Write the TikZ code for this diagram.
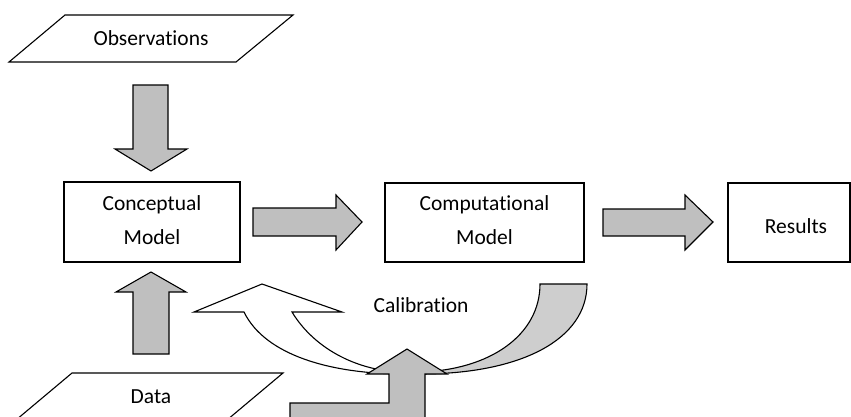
\documentclass[tikz,border=0pt]{standalone}
\usepackage{fontspec}
\setmainfont{Carlito}[Ligatures={NoCommon,NoContextual},RawFeature={-liga;-clig;-calt;-dlig}]
\definecolor{arrowgray}{RGB}{191,191,191}
\definecolor{bandgray}{RGB}{206,206,206}
\begin{document}
\begin{tikzpicture}[x=1pt,y=-1pt, line width=1.1pt, line join=miter,
  box/.style={draw=black, fill=white, inner sep=0pt},
  lbl/.style={font=\fontsize{21.5}{34}\selectfont, align=center, inner sep=0pt},
  blockarrow/.style={draw=black, fill=arrowgray},
  bandshape/.style={draw=black, fill=bandgray},
  frontshape/.style={draw=black, fill=white},
  dataform/.style={draw=black, fill=white}]
\useasboundingbox (0,0) rectangle (851,416);
\clip (0,0) rectangle (851,416);

% input/output parallelograms
\draw[dataform] (65,15) -- (293,15) -- (236,62) -- (9,62) -- cycle;
\node[lbl] (obs) at (151,38) {Observations};
\draw[dataform] (72,373) -- (283,373) -- (227,420) -- (16,420) -- cycle;
\node[lbl] (data) at (151,397) {Data};

% boxes
\node[box, minimum width=176pt, minimum height=80pt] (concept) at (152,222) {};
\node[lbl] (concepttxt) at (152,220) {Conceptual\\Model};
\node[box, minimum width=199pt, minimum height=79pt] (comp) at (484.5,222.5) {};
\node[lbl] (comptxt) at (484.5,220) {Computational\\Model};
\node[box, minimum width=122pt, minimum height=79pt] (res) at (789,222.5) {};
\node[lbl] (restxt) at (796,226) {Results};

% straight block arrows
\draw[blockarrow] (133,85) -- (168,85) -- (168,149) -- (187,149) -- (151,171) -- (115,149) -- (133,149) -- cycle;
\draw[blockarrow] (133,354) -- (169,354) -- (169,292) -- (186,292) -- (151,272) -- (116,292) -- (133,292) -- cycle;
\draw[blockarrow] (253,208) -- (336,208) -- (336,195) -- (362,222) -- (336,250) -- (336,236) -- (253,236) -- cycle;
\draw[blockarrow] (603,209) -- (685,209) -- (685,195) -- (713,222) -- (685,250) -- (685,236) -- (603,236) -- cycle;

% curved up arrow (calibration)
\draw[bandshape] (540,284) -- (587,284) .. controls (587,340) and (520,374) .. (420,374)
  -- (420,372) .. controls (490,370) and (540,335) .. (540,284) -- cycle;
\draw[frontshape] (194,312) -- (262,284) -- (342,312) -- (292,312)
  .. controls (315,350) and (360,372) .. (405,372) -- (405,374)
  .. controls (330,374) and (265,355) .. (244,312) -- cycle;
\node[lbl] (calib) at (421,305) {Calibration};

% bent up arrow at bottom
\draw[blockarrow] (389,374) -- (367,374) -- (407,349) -- (447,374) -- (425,374) -- (425,440)
  -- (290,440) -- (290,403) -- (389,403) -- cycle;
\end{tikzpicture}
\end{document}
